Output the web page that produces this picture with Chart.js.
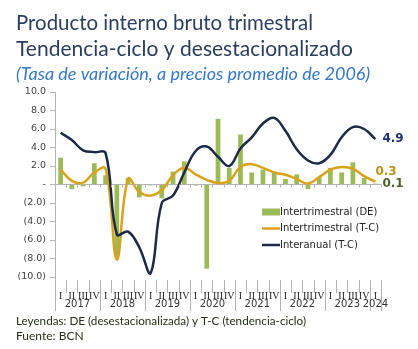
<!DOCTYPE html>
<html>
<head>
<meta charset="utf-8">
<script src="https://cdn.jsdelivr.net/npm/chart.js@4/dist/chart.umd.min.js"></script>
<style>
  body { margin: 0; background: #fff; }
  #wrap { width: 418px; height: 349px; position: relative; }
</style>
</head>
<body>
<div id="wrap"><canvas id="canvas"></canvas></div>
<script>
// quarters 2017 I .. 2024 I
var quarters = ['I','II','III','IV','I','II','III','IV','I','II','III','IV','I','II','III','IV',
                'I','II','III','IV','I','II','III','IV','I','II','III','IV','I'];
var years = ['2017','2018','2019','2020','2021','2022','2023','2024'];

// Intertrimestral (DE)
var interDE = [2.9, -0.5, -0.2, 2.3, 1.0, -7.8, 0.7, -1.4, -0.1, -1.5, 1.4, 2.5, -0.1, -9.1, 7.1, 1.8,
               5.4, 1.3, 1.6, 1.4, 0.6, 1.1, -0.5, 0.8, 1.8, 1.3, 2.4, 0.7, 0.1];
// Intertrimestral (T-C)
var interTC = [1.6, 0.4, 0.2, 1.3, 1.7, -8.1, 0.6, -0.8, -1.2, -0.6, 1.0, 1.8, 1.1, 0.5, 0.15, 0.4,
               1.9, 2.2, 1.8, 1.3, 1.05, 0.6, 0.1, 0.8, 1.6, 1.9, 1.7, 0.9, 0.3];
// Interanual (T-C)
var interanual = [5.6, 4.8, 3.7, 3.5, 3.4, -5.4, -5.1, -6.8, -9.6, -2.0, -1.2, 1.3, 3.6, 4.1, 3.0, 2.0,
                  3.9, 5.1, 6.6, 7.2, 5.8, 3.8, 2.6, 2.3, 3.2, 5.1, 6.2, 6.0, 4.9];

var cGreen = '#9bbb59', cGold = '#d9a21b', cNavy = '#1c2a48', cAxis = '#b3b3b3';

var decor = {
    id: 'decor',
    afterDraw: function (chart) {
        var ctx = chart.ctx, area = chart.chartArea;
        var xs = chart.scales.x, ys = chart.scales.y;
        var n = quarters.length;
        var step = xs.getPixelForValue(1) - xs.getPixelForValue(0);
        var y0 = ys.getPixelForValue(0);
        ctx.save();
        // titles
        ctx.textBaseline = 'alphabetic';
        ctx.fillStyle = '#2b3d60';
        ctx.font = '21px Lato';
        ctx.fillText('Producto interno bruto trimestral', 16, 30, 297);
        ctx.fillText('Tendencia-ciclo y desestacionalizado', 16, 56, 338);
        ctx.fillStyle = '#3478c6';
        ctx.font = 'italic 18px Lato';
        ctx.fillText('(Tasa de variación, a precios promedio de 2006)', 16, 80, 362);
        // footer
        ctx.fillStyle = '#26301a';
        ctx.font = '12px Lato';
        ctx.fillText('Leyendas: DE (desestacionalizada) y T-C (tendencia-ciclo)', 16, 325, 290);
        ctx.fillText('Fuente: BCN', 16, 340);

        // axis extension + separators
        ctx.strokeStyle = cAxis;
        ctx.lineWidth = 1;
        ctx.beginPath();
        ctx.moveTo(area.left + 0.5, area.bottom);
        ctx.lineTo(area.left + 0.5, 311);
        for (var i = 1; i <= n; i++) {
            var bx = Math.round(xs.getPixelForValue(i) - step / 2) + 0.5;
            var yearEdge = (i % 4 === 0) || i === n;
            ctx.moveTo(bx, area.bottom + 3);
            ctx.lineTo(bx, yearEdge ? 311 : 293);
            // small ticks under zero line
            ctx.moveTo(bx, y0);
            ctx.lineTo(bx, y0 + 3);
        }
        ctx.stroke();

        // years
        ctx.fillStyle = '#333';
        ctx.font = '10px "DejaVu Sans"';
        ctx.textAlign = 'center';
        ctx.textBaseline = 'middle';
        years.forEach(function (yr, k) {
            var first = k * 4, last = Math.min(first + 3, n - 1);
            var cx = (xs.getPixelForValue(first) + xs.getPixelForValue(last)) / 2;
            ctx.fillText(yr, cx, 304);
        });

        // legend
        var lx = 262, rows = [212, 228.5, 245];
        ctx.textAlign = 'left';
        ctx.font = '10px "DejaVu Sans"';
        ctx.fillStyle = cGreen;
        ctx.fillRect(lx, rows[0] - 3.5, 18, 7);
        ctx.lineWidth = 2.5;
        ctx.strokeStyle = cGold;
        ctx.beginPath(); ctx.moveTo(lx, rows[1]); ctx.lineTo(lx + 18, rows[1]); ctx.stroke();
        ctx.strokeStyle = cNavy;
        ctx.beginPath(); ctx.moveTo(lx, rows[2]); ctx.lineTo(lx + 18, rows[2]); ctx.stroke();
        ctx.fillStyle = '#222';
        ctx.fillText('Intertrimestral (DE)', lx + 18, rows[0]);
        ctx.fillText('Intertrimestral (T-C)', lx + 18, rows[1]);
        ctx.fillText('Interanual (T-C)', lx + 18, rows[2]);

        // end labels
        var li = n - 1, px = xs.getPixelForValue(li);
        ctx.font = 'bold 12px "DejaVu Sans"';
        ctx.fillStyle = '#1f3371';
        ctx.fillText(interanual[li].toFixed(1), px + 7, ys.getPixelForValue(interanual[li]));
        ctx.fillStyle = '#c0900f';
        ctx.fillText(interTC[li].toFixed(1), px, ys.getPixelForValue(interTC[li]) - 10);
        ctx.fillStyle = '#4f6228';
        ctx.fillText(interDE[li].toFixed(1), px + 7, ys.getPixelForValue(interDE[li]));
        ctx.restore();
    }
};

var ctx = document.getElementById('canvas');
var myChart = new Chart(ctx, {
    type: 'bar',
    data: {
        labels: quarters,
        datasets: [
            {
                type: 'line',
                label: 'Interanual (T-C)',
                data: interanual,
                borderColor: cNavy,
                backgroundColor: cNavy,
                borderWidth: 2.5,
                pointRadius: 0,
                tension: 0.4,
                order: 0
            },
            {
                type: 'line',
                label: 'Intertrimestral (T-C)',
                data: interTC,
                borderColor: cGold,
                backgroundColor: cGold,
                borderWidth: 2.5,
                pointRadius: 0,
                tension: 0.4,
                order: 1
            },
            {
                label: 'Intertrimestral (DE)',
                data: interDE,
                backgroundColor: cGreen,
                barPercentage: 0.42,
                categoryPercentage: 1,
                order: 2
            }
        ]
    },
    options: {
        responsive: true,
        maintainAspectRatio: false,
        animation: false,
        layout: { padding: { top: 92, right: 37, left: 0, bottom: 0 } },
        plugins: {
            legend: { display: false },
            tooltip: { enabled: false }
        },
        scales: {
            x: {
                afterFit: function (s) { s.height = 72; },
                grid: { display: false },
                border: { display: false },
                ticks: {
                    autoSkip: false,
                    maxRotation: 0,
                    padding: 5,
                    color: '#222',
                    font: { family: 'Liberation Serif', size: 10 }
                }
            },
            y: {
                min: -10,
                max: 10,
                afterFit: function (s) { s.width = 55; },
                ticks: {
                    stepSize: 2,
                    padding: 4,
                    color: '#404040',
                    font: { family: 'DejaVu Sans', size: 9.5 },
                    callback: function (v) {
                        if (v === 0) return '-';
                        return v < 0 ? '(' + (-v).toFixed(1) + ')' : v.toFixed(1);
                    }
                },
                grid: {
                    tickLength: 5,
                    tickColor: cAxis,
                    color: function (c) { return c.tick && c.tick.value === 0 ? cAxis : 'transparent'; }
                },
                border: { display: true, color: cAxis }
            }
        }
    },
    plugins: [decor]
});
</script>
</body>
</html>
